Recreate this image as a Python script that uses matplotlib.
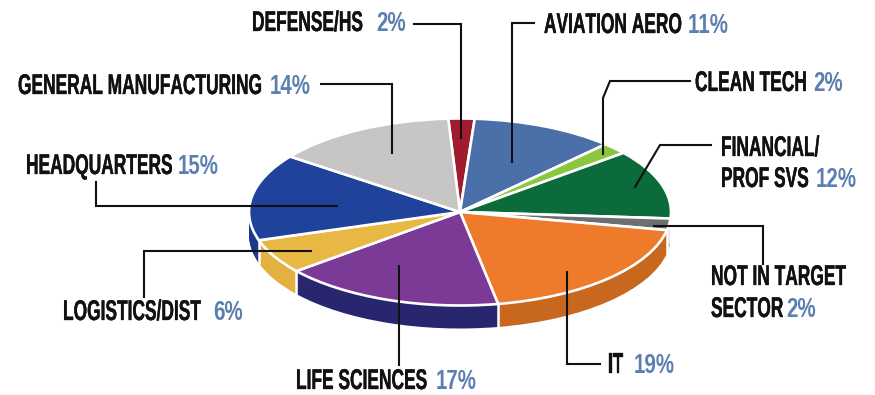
import matplotlib
matplotlib.use("Agg")
import matplotlib.pyplot as plt
import matplotlib.font_manager as fm
import matplotlib.patheffects as pe
import numpy as np
from fontTools.ttLib import TTFont
from fontTools.pens.ttGlyphPen import TTGlyphPen
from fontTools.pens.transformPen import TransformPen

# data, clockwise from the top of the pie
sectors = ["DEFENSE/HS", "AVIATION AERO", "CLEAN TECH", "FINANCIAL/", "PROF SVS",
           "NOT IN TARGET", "SECTOR", "IT", "LIFE SCIENCES", "LOGISTICS/DIST",
           "HEADQUARTERS", "GENERAL MANUFACTURING"]
values = [2, 11, 2, 12, 2, 19, 17, 6, 15, 14]

top_colors = ["#a01c2c", "#4a6fa9", "#8cc63f", "#0b6b3a", "#6d6e70",
              "#ee7b2b", "#7b3a96", "#e8b844", "#1f429b", "#c8c6c4"]
side_colors = ["#7a1522", "#38547f", "#6a962f", "#084f2b", "#a9a9a9",
               "#c8681f", "#27266e", "#e3b13f", "#1b3a8a", "#9a9896"]

# pie geometry in pixels
W, H = 875, 395
cx, cy, rx, ry, depth = 460, 212, 211, 93.5, 23
start = 93.2


def narrow_font(chars, scale, fname):
    # no condensed poster font installed, so squeeze Liberation Sans Bold sideways
    path = fm.findfont(fm.FontProperties(family="Liberation Sans", weight="bold"))
    font = TTFont(path)
    glyphs = font.getGlyphSet()
    cmap = font.getBestCmap()
    for name in {cmap[ord(c)] for c in chars}:
        pen = TTGlyphPen(glyphs)
        glyphs[name].draw(TransformPen(pen, (scale, 0, 0, 1, 0, 0)))
        adv, lsb = font["hmtx"][name]
        font["glyf"][name] = pen.glyph()
        font["hmtx"][name] = (int(adv*scale), int(lsb*scale))
    for tag in ("kern", "hdmx", "GPOS"):
        if tag in font:
            del font[tag]
    font.save(fname)
    return fname


pct_text = [f"{v}%" for v in values]
fs = 20.5
name_prop = fm.FontProperties(fname=narrow_font(set("".join(sectors)), 0.61, "narrow_a.ttf"), size=fs)
pct_prop = fm.FontProperties(fname=narrow_font(set("".join(pct_text)), 0.72, "narrow_b.ttf"), size=fs)

fig = plt.figure(figsize=(W/100, H/100), dpi=100)

# %% the pie, squashed into an ellipse
ax = fig.add_axes([0, 0, 1, 1])

# the wall is the same pie repeated further and further down
for d in np.linspace(depth, 1, 24):
    ax.pie(values, colors=side_colors, startangle=start, counterclock=False,
           center=(0, -d/ry), wedgeprops={"linewidth": 0.6, "edgecolor": "none"})

# white seams on the front of the wall
edges = start - np.cumsum(values)*3.6
for a in np.radians(edges):
    if np.sin(a) < 0:
        ax.plot([np.cos(a)]*2, [np.sin(a), np.sin(a) - depth/ry], color="white", lw=1.8)

ax.pie(values, colors=top_colors, startangle=start, counterclock=False,
       wedgeprops={"linewidth": 1.9, "edgecolor": "white"})

ax.set_aspect("auto")
ax.set_xlim(-cx/rx, (W - cx)/rx)
ax.set_ylim((cy - H)/ry, cy/ry)
ax.axis("off")

# %% overlay in pixel coordinates for the labels and the leader lines
ov = fig.add_axes([0, 0, 1, 1], facecolor="none")
ov.set_xlim(0, W)
ov.set_ylim(H, 0)
ov.axis("off")

leaders = [
    ([414, 461, 461], [24, 24, 138]),
    ([534, 512, 512], [23, 23, 162]),
    ([690, 610, 603, 603], [81, 81, 98, 154]),
    ([711, 660, 635], [145, 145, 187]),
    ([654, 763, 763], [226, 226, 264]),
    ([567, 567, 600], [272, 364, 364]),
    ([399, 399], [266, 365]),
    ([311, 144, 144], [251, 251, 297]),
    ([96, 96, 337], [182, 206, 206]),
    ([321, 392, 392], [84, 84, 153]),
]
for xs, ys in leaders:
    ov.plot(xs, ys, color="#111111", lw=1.5, solid_joinstyle="miter")

blue = "#5b7fb0"
name_x = [252, 544, 695, 721, 721, 711, 711, 608, 296, 63, 26, 18]
name_y = [21, 23, 81, 146, 177, 275, 307, 363, 379, 310, 164, 84]
pct_x = [376, 688, 813, 816, 786, 634, 436, 213, 178, 270]
pct_y = [21, 23, 81, 177, 307, 363, 379, 310, 164, 84]

thick = [pe.withStroke(linewidth=0.25, foreground="#111111")]
for x, y, s in zip(name_x, name_y, sectors):
    ov.text(x, y, s, color="#111111", fontproperties=name_prop, ha="left",
            va="center_baseline", path_effects=thick)
for x, y, s in zip(pct_x, pct_y, pct_text):
    ov.text(x, y, s, color=blue, fontproperties=pct_prop, ha="left", va="center_baseline")

fig.savefig("out.png", dpi=100)
